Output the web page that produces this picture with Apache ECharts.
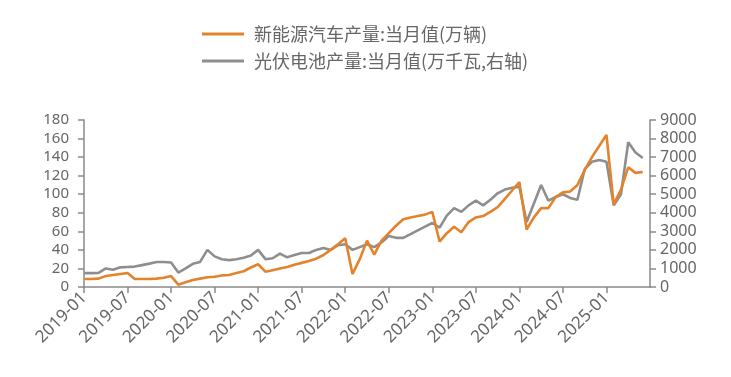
<!DOCTYPE html>
<html>
<head>
<meta charset="utf-8">
<script src="https://cdn.jsdelivr.net/npm/echarts@6/dist/echarts.min.js"></script>
<style>
  html, body { margin: 0; padding: 0; background: #fff; }
  #chart { width: 731px; height: 377px; }
</style>
</head>
<body>
<div id="chart"></div>
<script>
// months 2019-01 .. 2025-07
const months = [];
for (let y = 2019; y <= 2025; y++) {
    for (let m = 1; m <= 12; m++) {
        if (y === 2025 && m > 7) break;
        months.push(y + "-" + (m < 10 ? "0" + m : m));
    }
}

const nevName = "新能源汽车产量:当月值(万辆)";
const solarName = "光伏电池产量:当月值(万千瓦,右轴)";

// 万辆
const nevOutput = [
    8.6, 8.6, 9, 11.8, 13, 14, 15, 8.6, 8.6, 8.6, 9, 10,
    11.8, 2.5, 5, 7.5, 9, 10.5, 11, 12.5, 13, 15, 17, 21,
    24.5, 16.5, 18, 20, 21.6, 24, 26, 28, 30.5, 34.5, 40, 46,
    52.5, 14, 30, 50, 35, 50, 58, 66, 73, 75, 76.5, 78,
    81, 49, 58, 65, 59, 70, 75, 76.5, 81, 86, 95, 104,
    113, 62, 75, 85, 85, 97, 102, 103, 110, 126, 140, 152,
    164, 89, 105, 129, 123, 124, null
];

// 万千瓦
const solarOutput = [
    750, 750, 760, 1000, 930, 1060, 1080, 1100, 1180, 1260, 1350, 1350,
    1320, 780, 1000, 1250, 1350, 2000, 1650, 1500, 1450, 1500, 1580, 1700,
    2000, 1500, 1550, 1800, 1600, 1720, 1830, 1830, 2000, 2100, 2000, 2250,
    2300, 2000, 2150, 2300, 2150, 2400, 2750, 2650, 2650, 2850, 3050, 3250,
    3450, 3200, 3850, 4250, 4050, 4400, 4650, 4400, 4700, 5050, 5250, 5350,
    5400, 3500, 4500, 5500, 4650, 4850, 5000, 4800, 4700, 6350, 6750, 6850,
    6750, 4400, 5000, 7800, 7250, 6950, null
];

const axisColor = "#8a8a8a";
const labelColor = "#666";

// label every 6 months, but not the trailing 2025-07
function everySixMonths(index) {
    return index % 6 === 0 && index < months.length - 1;
}

const chart = echarts.init(document.getElementById("chart"));

chart.setOption({
    animation: false,
    legend: {
        orient: "vertical",
        left: 197,
        top: 20,
        icon: "rect",
        itemWidth: 42,
        itemHeight: 3,
        itemGap: 9,
        textStyle: {
            fontSize: 18,
            color: "#666",
            fontFamily: "Noto Sans CJK SC",
            padding: [0, 0, 0, 5]
        },
        data: [nevName, solarName]
    },
    grid: { left: 84, right: 81, top: 120, bottom: 90 },
    xAxis: {
        type: "category",
        data: months,
        boundaryGap: false,
        axisLine: { lineStyle: { color: axisColor, width: 1.5 } },
        axisTick: { interval: everySixMonths, length: 6, lineStyle: { color: axisColor, width: 1.5 } },
        axisLabel: {
            interval: everySixMonths,
            rotate: 45,
            fontSize: 17,
            color: labelColor,
            fontFamily: "Noto Sans",
            margin: 8
        }
    },
    yAxis: [
        {
            type: "value",
            min: 0, max: 180, interval: 20,
            splitLine: { show: false },
            axisLine: { show: true, lineStyle: { color: axisColor, width: 1.5 } },
            axisTick: { show: true, length: 6, lineStyle: { color: axisColor, width: 1.5 } },
            axisLabel: { fontSize: 15, color: labelColor, fontFamily: "Noto Sans", margin: 15 }
        },
        {
            type: "value",
            min: 0, max: 9000, interval: 1000,
            splitLine: { show: false },
            axisLine: { show: true, lineStyle: { color: axisColor, width: 1.5 } },
            axisTick: { show: true, length: 6, lineStyle: { color: axisColor, width: 1.5 } },
            axisLabel: {
                fontSize: 16, color: labelColor, fontFamily: "Noto Sans", margin: 10,
                formatter: (v) => String(v)
            }
        }
    ],
    series: [
        {
            name: nevName,
            type: "line",
            data: nevOutput,
            yAxisIndex: 0,
            symbol: "none",
            connectNulls: true,
            z: 3,
            lineStyle: { color: "#e3832c", width: 2.6 },
            itemStyle: { color: "#e3832c" }
        },
        {
            name: solarName,
            type: "line",
            data: solarOutput,
            yAxisIndex: 1,
            symbol: "none",
            connectNulls: true,
            z: 2,
            lineStyle: { color: "#8e8e8e", width: 2.6 },
            itemStyle: { color: "#8e8e8e" }
        }
    ]
});
</script>
</body>
</html>
